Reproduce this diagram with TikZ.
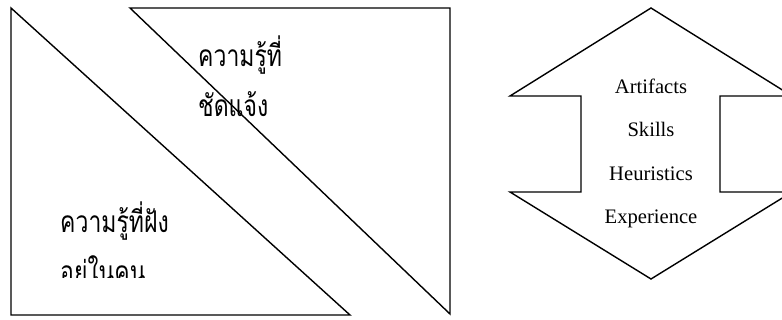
\documentclass[tikz,border=0pt]{standalone}
\usepackage{fontspec}
\usepackage{graphicx}
\setmainfont{Liberation Serif}
\newfontfamily\thaifont[Script=Thai]{Loma}
\usetikzlibrary{positioning}

\newcommand{\tallthai}[1]{\scalebox{1}[1.3]{#1}}

\begin{document}
\begin{tikzpicture}[x=1pt, y=-1pt]
    \tikzstyle{outline} = [draw, line width=1.4pt, line join=miter]
    \tikzstyle{thaitext} = [inner sep=0pt, anchor=base west, font=\thaifont\fontsize{23}{23}\selectfont]
    \tikzstyle{item} = [inner sep=0pt, anchor=base, font=\fontsize{20.6}{24}\selectfont]

    \useasboundingbox (0,0) rectangle (782,320);
    \clip (0,0) rectangle (782,320);

    % two knowledge triangles
    \draw[outline] (11,8) -- (11,315) -- (350,315) -- cycle;
    \draw[outline] (130,8) -- (450,8) -- (450,314) -- cycle;

    \node[thaitext] (explicit1) at (198,67) {\tallthai{ความรู้ที่}};
    \node[thaitext] (explicit2) at (198,117) {\tallthai{ชัดแจ้ง}};
    \node[thaitext] (tacit1) at (60,233) {\tallthai{ความรู้ที่ฝัง}};
    \begin{scope}
        \clip (40,240) rectangle (200,278);
        \node[thaitext] (tacit2) at (60,283) {\tallthai{อยู่ในคน}};
    \end{scope}

    % double arrow
    \draw[outline] (651,8) -- (792,96) -- (720,96) -- (720,192) -- (792,192)
        -- (651,279) -- (510,192) -- (581,192) -- (581,96) -- (510,96) -- cycle;

    \node[item] (artifacts) at (651,94) {Artifacts};
    \node[item] (skills) at (651,137) {Skills};
    \node[item] (heuristics) at (651,181) {Heuristics};
    \node[item] (experience) at (651,224) {Experience};
\end{tikzpicture}
\end{document}
